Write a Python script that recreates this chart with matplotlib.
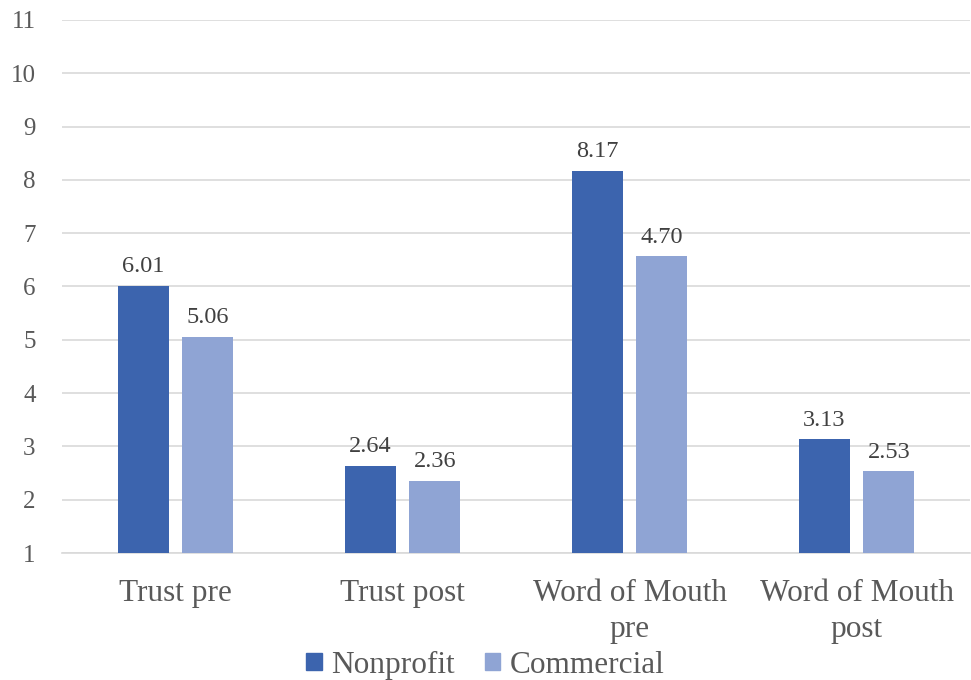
import matplotlib
matplotlib.use("Agg")
import matplotlib.pyplot as plt
import numpy as np
from matplotlib.patches import Patch

categories = ["Trust pre", "Trust post", "Word of Mouth\npre", "Word of Mouth\npost"]
series_names = ["Nonprofit", "Commercial"]
nonprofit = [6.01, 2.64, 8.17, 3.13]
commercial = [5.06, 2.36, 6.57, 2.53]
nonprofit_labels = ["6.01", "2.64", "8.17", "3.13"]
commercial_labels = ["5.06", "2.36", "4.70", "2.53"]
yticks = list(range(1, 12))

c_np = "#3C64AE"
c_co = "#8FA4D4"
txt = "#595959"

plt.rcParams["font.family"] = ["Liberation Serif", "DejaVu Serif"]

fig = plt.figure(figsize=(9.71, 6.8), dpi=100)
ax = fig.add_axes([62/971, (680-553)/680, (970-62)/971, (553-20)/680])

x = np.arange(len(categories))
w = 0.225
off = 0.143
ax.bar(x - off, np.array(nonprofit) - 1, w, bottom=1, color=c_np, zorder=3)
ax.bar(x + off, np.array(commercial) - 1, w, bottom=1, color=c_co, zorder=3)

for xi, v, l in zip(x - off, nonprofit, nonprofit_labels):
    ax.text(xi, v + 0.16, l, ha="center", va="bottom", fontsize=17.5, color="#404040")
for xi, v, l in zip(x + off, commercial, commercial_labels):
    ax.text(xi, v + 0.16, l, ha="center", va="bottom", fontsize=17.5, color="#404040")

ax.set_xlim(-0.5, len(categories) - 0.5)
ax.set_ylim(1, 11)
ax.set_yticks(yticks)
ax.set_yticklabels([str(t) for t in yticks], fontsize=18, color=txt)
ax.set_xticks(x)
ax.set_xticklabels(categories, fontsize=22.5, color=txt, linespacing=1.3)
ax.tick_params(axis="both", length=0)
ax.tick_params(axis="y", pad=19)
ax.tick_params(axis="x", pad=19)
ax.grid(axis="y", color="#D9D9D9", linewidth=1.2, zorder=0)
for s in ["top", "right", "left"]:
    ax.spines[s].set_visible(False)
ax.spines["bottom"].set_color("#D9D9D9")
ax.spines["bottom"].set_linewidth(1.2)

handles = [Patch(color=c_np), Patch(color=c_co)]
fig.legend(handles, series_names, loc="center", bbox_to_anchor=(0.5, 1 - 665/680),
           ncol=2, frameon=False, fontsize=22.5, handlelength=0.5, handleheight=0.5,
           handletextpad=0.3, columnspacing=0.95, labelcolor=txt)

fig.savefig("out.png", dpi=100)
